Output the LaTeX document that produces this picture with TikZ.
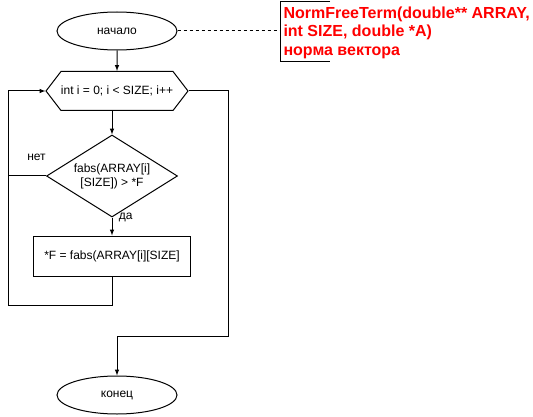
\documentclass[tikz,border=0pt]{standalone}
\usepackage{fontspec}
\setmainfont{Liberation Sans}
\usetikzlibrary{shapes.geometric,shapes.symbols}
\tikzstyle{term}=[ellipse, draw, minimum width=120pt, minimum height=38pt, inner sep=0pt]
\tikzstyle{forloop}=[signal, signal to=west and east, signal pointer angle=105, draw, minimum width=141pt, minimum height=39pt, inner sep=0pt]
\tikzstyle{check}=[diamond, draw, aspect=1.6, minimum width=131pt, minimum height=82pt, inner sep=0pt, align=center]
\tikzstyle{action}=[rectangle, draw, minimum width=157pt, minimum height=40pt]
\tikzstyle{note}=[text=red, font=\bfseries\fontsize{16}{18.5}\selectfont, align=left, anchor=north west, inner sep=0pt]

\begin{document}
\begin{tikzpicture}[x=1pt, y=-1pt, line width=1pt, >=latex, font=\fontsize{12}{14}\selectfont]
                    \useasboundingbox (0,0) rectangle (533,417);
                    \node[term]    (start) at (117, 31)  {начало};
                    \node[forloop] (for)   at (117, 91)  {int i = 0; i < SIZE; i++};
                    \node[check]   (cond)  at (112, 176) {fabs(ARRAY[i]\\{}[SIZE]) > *F};
                    \node[action]  (act)   at (112, 256) {*F = fabs(ARRAY[i][SIZE]};
                    \node[term]    (end)   at (117, 395) {конец};
                    \coordinate (back) at (8,   305);
                    \coordinate (exit) at (228, 336);
                    \coordinate (br)   at (280, 2);
                    \node[note] (sig) at (283, 6) {NormFreeTerm(double** ARRAY,\\int SIZE, double *A)\\норма вектора};
                    \draw[->]  (start) -- (for);
                    \draw[->]  (for.south -| cond.north) -- (cond);
                    \draw[->]  (cond) -- node[pos=0, anchor=west, xshift=3pt] {да} (act);
                    \draw      (cond.west) -- node[pos=0.25, above=12pt] {нет} (cond.west -| back);
                    \draw[->]  (act) |- (back) |- (for.west);
                    \draw[->]  (for.east) -| (exit) -| (end);
                    \draw[dashed] (start.east) -- (start.east -| br);
                    \draw      ([xshift=50pt]br) -- (br) -- ++(0,60) -- ++(50,0);
                \end{tikzpicture}
\end{document}
